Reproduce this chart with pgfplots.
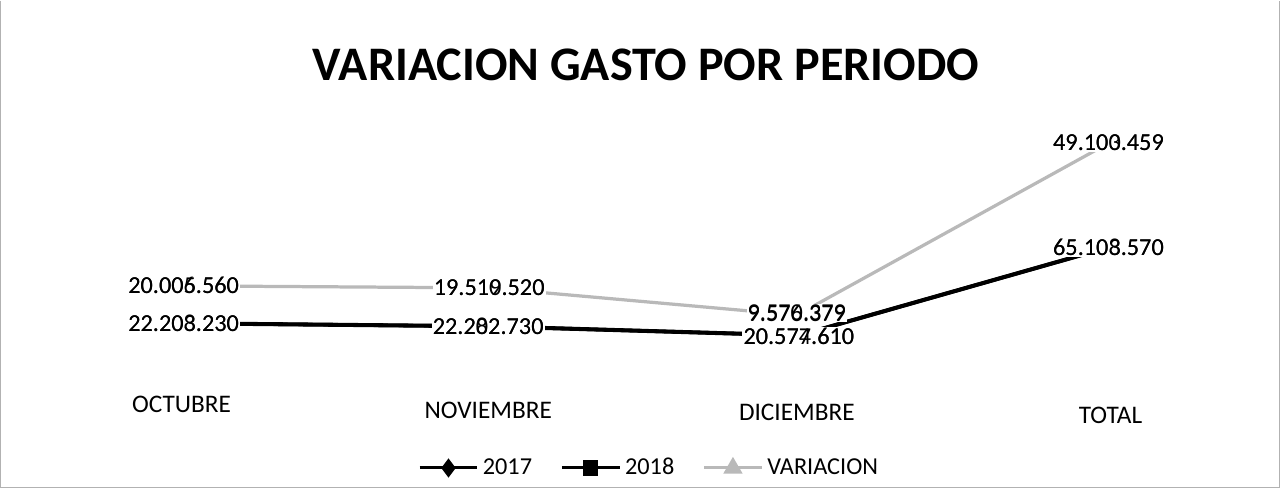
\documentclass[border=0pt]{standalone}
\usepackage{pgfplots}
\pgfplotsset{compat=1.18}
\usepackage{fontspec}
\setmainfont{Carlito}
\begin{document}
\begin{tikzpicture}
\begin{axis}[
 width=640pt, height=252.5pt, scale only axis,
 xmin=0, xmax=1280, ymin=0, ymax=505,
 hide axis, clip=false,
 legend style={at={(axis cs:650,42)}, anchor=center, draw=none, fill=none,
   font=\fontsize{12}{14}\selectfont, legend columns=3,
   /tikz/every even column/.append style={column sep=12pt}},
 legend image code/.code={\draw[mark repeat=2,mark phase=2] plot coordinates {(0cm,0cm)(0.5cm,0cm)(1cm,0cm)};},
 every node near coord/.append style={font=\fontsize{12}{14}\selectfont, text=black, inner sep=0.5pt},
 nodes near coords align={center},
]
% frame
\draw[gray!60, line width=0.5pt] (axis cs:8,504) -- (axis cs:8,23) -- (axis cs:1272,23) -- (axis cs:1272,504);
% legend entries
\addlegendimage{black, line width=1.5pt, mark=diamond*, mark size=3.5pt}
\addlegendentry{2017}
\addlegendimage{black, line width=1.5pt, mark=square*, mark size=3pt}
\addlegendentry{2018}
\addlegendimage{gray!55, line width=1.5pt, mark=triangle*, mark size=4pt}
\addlegendentry{VARIACION}
% lines
\addplot[gray!55, line width=1.6pt, forget plot] coordinates {(189,222) (491,220) (795,193) (1103,363)};
\addplot[black, line width=2pt, forget plot] coordinates {(189,185) (490,182) (797,173) (1103,260)};
\addplot[black, line width=1.8pt, forget plot] coordinates {(189,185) (490,182) (797,173) (1103,260)};
% data labels (two overlapping labels per point)
\addplot[draw=none, forget plot, nodes near coords, point meta=explicit symbolic,
  every node near coord/.append style={fill=white}] coordinates {
 (189,222) [20.006.560] (491,220) [19.519.520] (795,195) [9.570.379] (1103,363) [49.103.459]
 (189,185) [22.208.230] (490,182) [22.202.730] (797,172) [20.577.610] (1103,260) [65.103.570]};
\addplot[draw=none, forget plot, nodes near coords, point meta=explicit symbolic] coordinates {
 (189,222) [20.005.560] (491,220) [19.510.520] (795,195) [9.576.379] (1103,363) [49.100.459]
 (189,185) [22.203.230] (490,182) [22.282.730] (797,172) [20.574.610] (1103,260) [65.108.570]};
% category labels
\node[font=\fontsize{12.5}{14}\selectfont] at (axis cs:187,105) {OCTUBRE};
\node[font=\fontsize{12.5}{14}\selectfont] at (axis cs:490,99) {NOVIEMBRE};
\node[font=\fontsize{12.5}{14}\selectfont] at (axis cs:795,97) {DICIEMBRE};
\node[font=\fontsize{12.5}{14}\selectfont] at (axis cs:1105,94) {TOTAL};
% title
\node[font=\bfseries\fontsize{23.8}{28}\selectfont] at (axis cs:646,440) {VARIACION GASTO POR PERIODO};
\end{axis}
\end{tikzpicture}
\end{document}
